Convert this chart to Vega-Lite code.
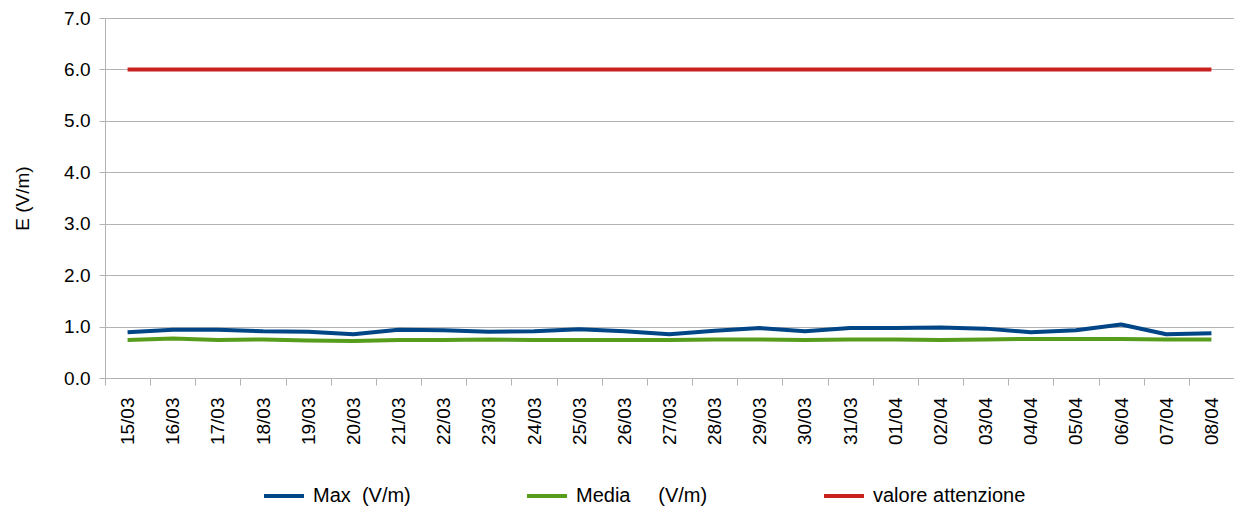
{
  "$schema": "https://vega.github.io/schema/vega-lite/v6.json",
  "autosize": {"type": "none"},
  "padding": {"left": 105, "top": 18, "right": 0, "bottom": 130},
  "width": 1129,
  "height": 360,
  "background": "white",
  "config": {
    "font": "Liberation Sans",
    "view": {"stroke": null}
  },
  "data": {
    "values": [
      {"date": "15/03", "Max": 0.89, "Media": 0.74, "Att": 6},
      {"date": "16/03", "Max": 0.94, "Media": 0.77, "Att": 6},
      {"date": "17/03", "Max": 0.94, "Media": 0.74, "Att": 6},
      {"date": "18/03", "Max": 0.91, "Media": 0.75, "Att": 6},
      {"date": "19/03", "Max": 0.90, "Media": 0.73, "Att": 6},
      {"date": "20/03", "Max": 0.85, "Media": 0.72, "Att": 6},
      {"date": "21/03", "Max": 0.94, "Media": 0.74, "Att": 6},
      {"date": "22/03", "Max": 0.93, "Media": 0.74, "Att": 6},
      {"date": "23/03", "Max": 0.90, "Media": 0.75, "Att": 6},
      {"date": "24/03", "Max": 0.91, "Media": 0.74, "Att": 6},
      {"date": "25/03", "Max": 0.95, "Media": 0.74, "Att": 6},
      {"date": "26/03", "Max": 0.91, "Media": 0.74, "Att": 6},
      {"date": "27/03", "Max": 0.85, "Media": 0.74, "Att": 6},
      {"date": "28/03", "Max": 0.92, "Media": 0.75, "Att": 6},
      {"date": "29/03", "Max": 0.97, "Media": 0.75, "Att": 6},
      {"date": "30/03", "Max": 0.91, "Media": 0.74, "Att": 6},
      {"date": "31/03", "Max": 0.97, "Media": 0.75, "Att": 6},
      {"date": "01/04", "Max": 0.97, "Media": 0.75, "Att": 6},
      {"date": "02/04", "Max": 0.98, "Media": 0.74, "Att": 6},
      {"date": "03/04", "Max": 0.96, "Media": 0.75, "Att": 6},
      {"date": "04/04", "Max": 0.89, "Media": 0.76, "Att": 6},
      {"date": "05/04", "Max": 0.93, "Media": 0.76, "Att": 6},
      {"date": "06/04", "Max": 1.04, "Media": 0.76, "Att": 6},
      {"date": "07/04", "Max": 0.85, "Media": 0.75, "Att": 6},
      {"date": "08/04", "Max": 0.87, "Media": 0.75, "Att": 6}
    ]
  },
  "transform": [
    {"fold": ["Max", "Media", "Att"], "as": ["key", "value"]},
    {"lookup": "key", "from": {"data": {"values": [
      {"key": "Max", "series": "Max\u00a0\u00a0(V/m)", "ord": 0},
      {"key": "Media", "series": "Media\u00a0\u00a0\u00a0\u00a0\u00a0(V/m)", "ord": 1},
      {"key": "Att", "series": "valore attenzione", "ord": 2}
    ]}, "key": "key", "fields": ["series", "ord"]}}
  ],
  "mark": {"type": "line", "strokeWidth": 4, "strokeJoin": "round"},
  "encoding": {
    "x": {
      "field": "date", "type": "ordinal", "sort": null,
      "scale": {"paddingInner": 0, "paddingOuter": 0},
      "axis": {
        "title": null, "labelAngle": 270, "labelFontSize": 19, "labelColor": "#000000",
        "labelPadding": 12, "tickBand": "extent", "tickColor": "#b3b3b3", "tickSize": 7,
        "domainColor": "#b3b3b3", "grid": false, "labelBaseline": "middle"
      }
    },
    "y": {
      "field": "value", "type": "quantitative",
      "scale": {"domain": [0, 7], "nice": false},
      "axis": {
        "title": "E (V/m)", "titleFontSize": 19, "titleFontWeight": "normal", "titleColor": "#000000",
        "titlePadding": 31, "values": [0, 1, 2, 3, 4, 5, 6, 7], "format": ".1f",
        "labelFontSize": 19, "labelColor": "#000000", "labelPadding": 9,
        "tickColor": "#b3b3b3", "tickSize": 6, "domainColor": "#b3b3b3",
        "gridColor": "#b3b3b3", "gridWidth": 1
      }
    },
    "color": {
      "field": "series", "type": "nominal",
      "scale": {
        "domain": ["Max\u00a0\u00a0(V/m)", "Media\u00a0\u00a0\u00a0\u00a0\u00a0(V/m)", "valore attenzione"],
        "range": ["#004586", "#579d1c", "#c9211e"]
      },
      "legend": {
        "title": null, "orient": "none", "direction": "horizontal",
        "legendX": 157, "legendY": 456,
        "symbolType": "stroke", "symbolSize": 1600, "symbolStrokeWidth": 4,
        "labelFontSize": 20, "labelColor": "#000000", "labelOffset": 7,
        "columnPadding": 108, "labelLimit": 300
      }
    },
    "order": {"field": "ord"}
  }
}
